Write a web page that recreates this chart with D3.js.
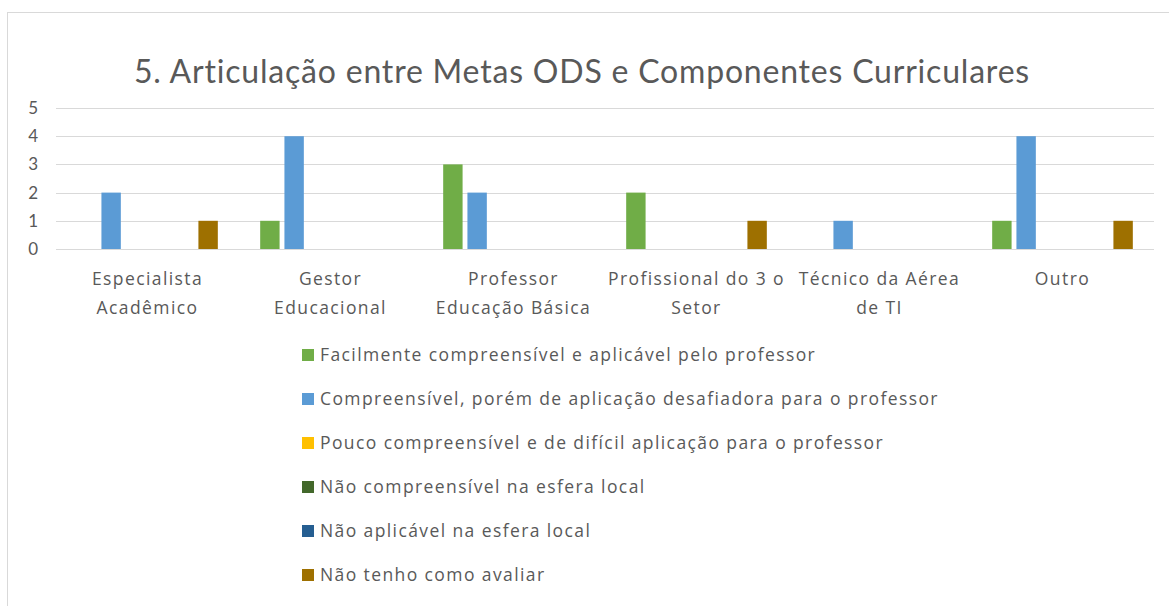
<!DOCTYPE html>
<html lang="pt">
<head>
  <meta charset="utf-8">
  <title>Articulação entre Metas ODS e Componentes Curriculares</title>
  <script src="https://cdn.jsdelivr.net/npm/d3@7"></script>
  <style>
    body { margin: 0; background: #fff; }
    text { font-family: Lato, "Open Sans", sans-serif; fill: #595959; }
    .lbl { font-family: "Open Sans", Lato, sans-serif; font-size: 17.5px; letter-spacing: 1.4px; }
  </style>
</head>
<body>
  <script>
    // data
    const categories = [
      ["Especialista", "Acadêmico"],
      ["Gestor", "Educacional"],
      ["Professor", "Educação Básica"],
      ["Profissional do 3 o", "Setor"],
      ["Técnico da Aérea", "de TI"],
      ["Outro"]
    ];
    const seriesNames = [
      "Facilmente compreensível e aplicável pelo professor",
      "Compreensível, porém de aplicação desafiadora para o professor",
      "Pouco compreensível e de difícil aplicação para o professor",
      "Não compreensível na esfera local",
      "Não aplicável na esfera local",
      "Não tenho como avaliar"
    ];
    const seriesColors = ["#70AD47", "#5B9BD5", "#FFC000", "#43682B", "#255E91", "#9E7000"];
    // values per category, one entry per series
    const facilmente   = [0, 1, 3, 2, 0, 1];
    const desafiadora  = [2, 4, 2, 0, 1, 4];
    const pouco        = [0, 0, 0, 0, 0, 0];
    const naoCompreens = [0, 0, 0, 0, 0, 0];
    const naoAplicavel = [0, 0, 0, 0, 0, 0];
    const naoAvaliar   = [1, 0, 0, 1, 0, 1];
    const seriesValues = [facilmente, desafiadora, pouco, naoCompreens, naoAplicavel, naoAvaliar];
    const yTicks = [0, 1, 2, 3, 4, 5];

    const width = 1169, height = 606;
    const plot = { left: 56, right: 1154, top: 108, bottom: 249 };

    const svg = d3.select("body").append("svg")
      .attr("width", width).attr("height", height);

    // chart border
    svg.append("rect")
      .attr("x", 7.5).attr("y", 12.5)
      .attr("width", 1300).attr("height", 800)
      .attr("fill", "none").attr("stroke", "#d9d9d9");

    svg.append("text")
      .attr("x", 582).attr("y", 83)
      .attr("text-anchor", "middle")
      .style("font-size", "32px")
      .style("letter-spacing", "0.8px")
      .text("5. Articulação entre Metas ODS e Componentes Curriculares");

    const x0 = d3.scaleBand()
      .domain(d3.range(categories.length))
      .range([plot.left, plot.right])
      .paddingInner(0.205).paddingOuter(0.1025);
    const x1 = d3.scaleBand()
      .domain(d3.range(seriesNames.length))
      .range([0, x0.bandwidth()])
      .paddingInner(0.2).paddingOuter(0.1);
    const y = d3.scaleLinear().domain([0, 5]).range([plot.bottom, plot.top]);

    // gridlines
    svg.append("g").selectAll("line").data(yTicks).join("line")
      .attr("x1", plot.left).attr("x2", plot.right)
      .attr("y1", d => Math.round(y(d)) + 0.5).attr("y2", d => Math.round(y(d)) + 0.5)
      .attr("stroke", "#d9d9d9").attr("stroke-width", 1);

    // y labels
    svg.append("g").selectAll("text").data(yTicks).join("text")
      .attr("x", 38).attr("y", d => y(d))
      .attr("dy", "0.35em")
      .attr("text-anchor", "end")
      .style("font-size", "17px")
      .text(d => d);

    // bars
    const groups = svg.append("g").selectAll("g").data(categories).join("g")
      .attr("transform", (d, i) => `translate(${x0(i)},0)`);
    groups.selectAll("rect")
      .data((d, ci) => seriesValues.map((vals, si) => ({ si, v: vals[ci] })))
      .join("rect")
      .filter(d => d.v > 0)
      .attr("x", d => x1(d.si))
      .attr("width", x1.bandwidth())
      .attr("y", d => y(d.v))
      .attr("height", d => y(0) - y(d.v))
      .attr("fill", d => seriesColors[d.si]);

    // category labels
    const catLabels = svg.append("g").selectAll("text").data(categories).join("text")
      .attr("class", "lbl")
      .attr("x", (d, i) => x0(i) + x0.bandwidth() / 2)
      .attr("y", 285)
      .attr("text-anchor", "middle");
    catLabels.selectAll("tspan").data(d => d).join("tspan")
      .attr("x", function () { return this.parentNode.getAttribute("x"); })
      .attr("dy", (d, i) => i === 0 ? 0 : 29)
      .text(d => d);

    // legend
    const legend = svg.append("g").selectAll("g").data(seriesNames).join("g")
      .attr("transform", (d, i) => `translate(302, ${355 + i * 44})`);
    legend.append("rect")
      .attr("x", 0).attr("y", -6).attr("width", 12).attr("height", 12)
      .attr("fill", (d, i) => seriesColors[i]);
    legend.append("text")
      .attr("class", "lbl")
      .attr("x", 18).attr("dy", "0.35em")
      .text(d => d);
  </script>
</body>
</html>
